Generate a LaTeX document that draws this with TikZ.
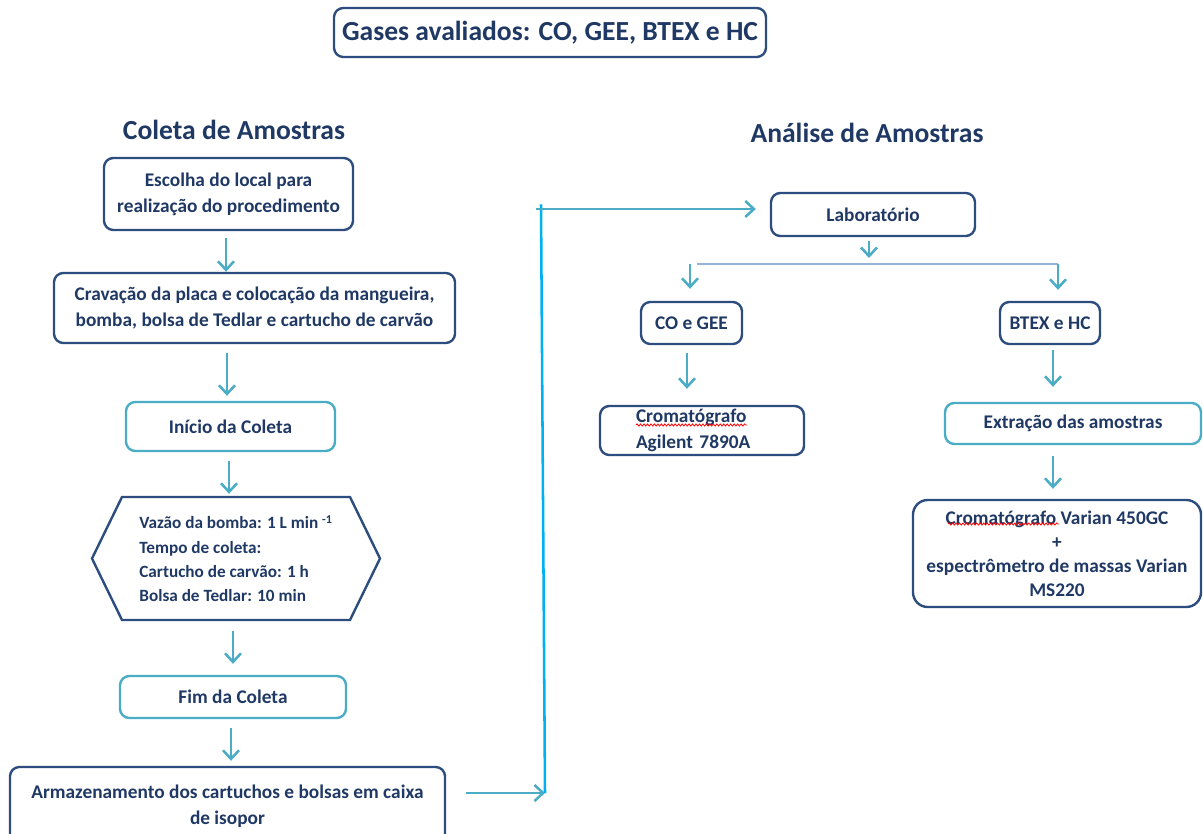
\documentclass[tikz,border=0pt]{standalone}
\usepackage{fontspec}
\setmainfont{Carlito}
\usepackage{tikz}
\usetikzlibrary{arrows.meta,decorations.pathmorphing,shapes.symbols}
\definecolor{navytext}{RGB}{31,56,100}
\definecolor{boxdark}{RGB}{44,77,125}
\definecolor{boxlight}{RGB}{75,172,198}
\definecolor{arrowteal}{RGB}{75,172,198}
\definecolor{linkblue}{RGB}{0,176,240}
\definecolor{splitblue}{RGB}{149,179,215}

\begin{document}
\begin{tikzpicture}
  [x=0.75pt,y=-0.75pt,
   every node/.style={font=\bfseries\fontsize{14.5}{19.5}\selectfont,text=navytext,align=center,inner sep=0pt},
   darkbox/.style={draw=boxdark,line width=1.8pt,rounded corners=7pt},
   lightbox/.style={draw=boxlight,line width=1.8pt,rounded corners=7pt},
   hexbox/.style={signal,signal to=west and east,signal pointer angle=128,draw=boxdark,line width=1.8pt,
                  font=\bfseries\fontsize{12.9}{18.2}\selectfont,align=left},
   heading/.style={font=\bfseries\fontsize{20.7}{24}\selectfont},
   arr/.style={draw=arrowteal,line width=1.9pt,-{Straight Barb[length=6.5pt,width=12pt]}},
   spell/.style={draw=red,line width=0.6pt,decorate,decoration={snake,amplitude=0.8pt,segment length=2.6pt}}]
  \useasboundingbox (0,0) rectangle (1203,834);
  % title and column headings
  \node[darkbox,heading,minimum width=324pt,minimum height=36.75pt] (gases) at (550,32.5) {Gases avaliados: CO, GEE, BTEX e HC};
  \node[heading] (coleta) at (234,130) {Coleta de Amostras};
  \node[heading] (analise) at (867,133) {Análise de Amostras};
  % left column
  \node[darkbox,minimum width=186.75pt,minimum height=54pt] (esc) at (228.5,194) {Escolha do local para\\realização do procedimento};
  \node[darkbox,minimum width=300.75pt,minimum height=52.5pt] (crav) at (254.5,308) {Cravação da placa e colocação da mangueira,\\bomba, bolsa de Tedlar e cartucho de carvão};
  \node[lightbox,minimum width=156.75pt,minimum height=36.75pt] (ini) at (230.5,426.5) {Início da Coleta};
  \node[hexbox,minimum width=216pt,minimum height=92.25pt] (vaz) at (236,558.5) {Vazão da bomba: 1 L min \textsuperscript{-1}\\Tempo de coleta:\\Cartucho de carvão: 1 h\\Bolsa de Tedlar: 10 min};
  \node[lightbox,minimum width=169.5pt,minimum height=31.5pt] (fim) at (233,697) {Fim da Coleta};
  \node[darkbox,minimum width=326.25pt,minimum height=58.5pt] (arm) at (227.5,806) {Armazenamento dos cartuchos e bolsas em caixa\\de isopor};
  % right column
  \node[darkbox,minimum width=153pt,minimum height=32.25pt] (lab) at (873,214.5) {Laboratório};
  \node[darkbox,minimum width=75.75pt,minimum height=31.5pt] (co) at (691.5,323) {CO e GEE};
  \node[darkbox,minimum width=75pt,minimum height=31.5pt] (bt) at (1050,323) {BTEX e HC};
  \node[darkbox,minimum width=153pt,minimum height=36.75pt,text width=99pt,align=left] (crag) at (702,430.5) {Cromatógrafo\\Agilent 7890A};
  \node[lightbox,minimum width=192pt,minimum height=30.75pt] (ext) at (1073,423.5) {Extração das amostras};
  \node[darkbox,rounded corners=11pt,minimum width=216pt,minimum height=80.25pt,font=\bfseries\fontsize{14.5}{18}\selectfont] (crvar) at (1057,553.5) {Cromatógrafo Varian 450GC\\+\\espectrômetro de massas Varian\\MS220};
  % spelling marks
  \node[anchor=south west] (sw1) at (636,425) {\phantom{Cromatógrafo}};
  \draw[spell] (sw1.south west) -- (sw1.south east);
  \node[anchor=south west] (sw2) at (948,524) {\phantom{Cromatógrafo}};
  \draw[spell] (sw2.south west) -- (sw2.south east);
  \coordinate (jb) at (545,793);
  \coordinate (jt) at (541,209);
  \coordinate (sp) at (869,264);
  \coordinate (spl) at (690,264);
  \coordinate (spr) at (1058,264);
  % vertical arrows
  \foreach \from/\to/\x/\a/\b in {esc/crav/226/5.25/0, crav/ini/227/6.75/3.75, ini/vaz/229/6.75/1.5,
      vaz/fim/233/7.5/8.25, fim/arm/231/6.75/3.75, co/crag/687/6/12, bt/ext/1053/3.75/11.25, ext/crvar/1053/8.25/7.5}
    \draw[arr,shorten <=\a pt,shorten >=\b pt] (\from.south -| \x,0) -- (\to.north -| \x,0);
  % link between the two columns
  \draw[arr,shorten <=15pt] (jb -| arm.east) -- (jb);
  \draw[linkblue,line width=1.9pt] (jb) -- ([yshift=3.5pt]jt);
  \draw[arr,shorten <=-4pt,shorten >=10.5pt] (jt) -- (jt -| lab.west);
  % split below the laboratory
  \draw[arr,shorten <=3pt,shorten >=4.5pt] (lab.south -| sp) -- (sp);
  \draw[splitblue,line width=1.5pt] ([xshift=5pt]spl) -- (spr);
  \draw[arr,shorten >=9pt] (spl) -- (spl |- co.north);
  \draw[arr,shorten >=8.25pt] (spr) -- (spr |- bt.north);
\end{tikzpicture}
\end{document}
